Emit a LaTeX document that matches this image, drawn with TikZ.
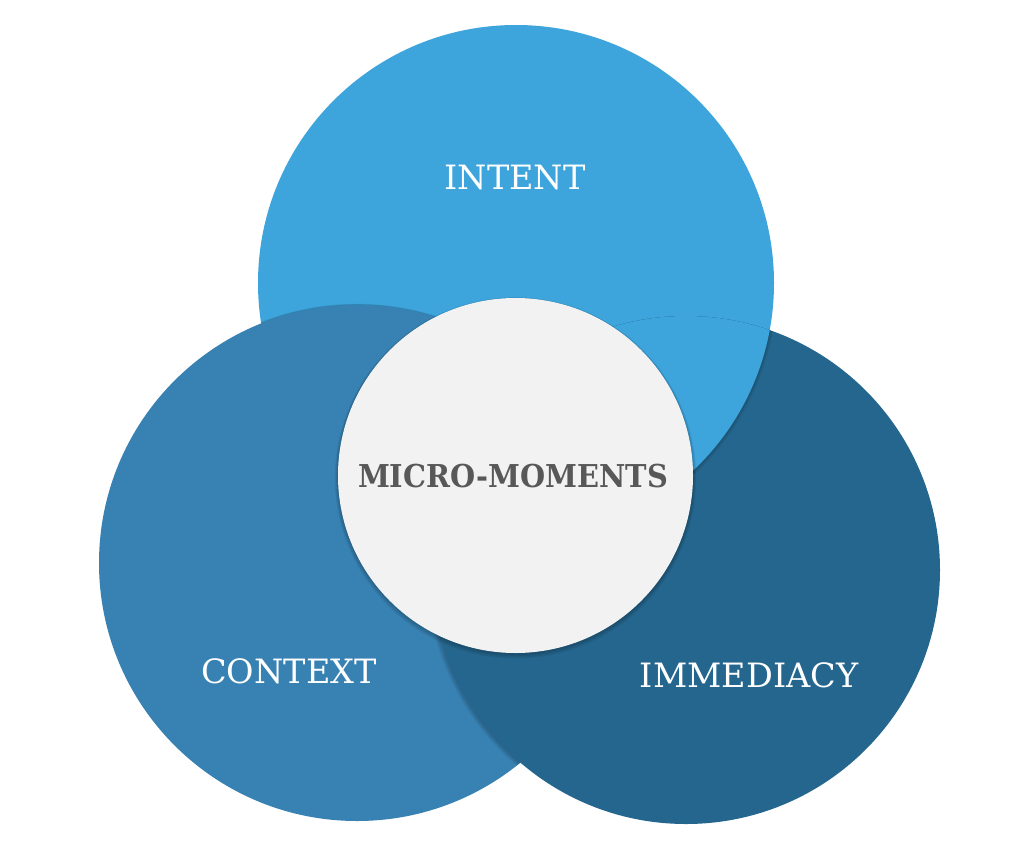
\documentclass[tikz,border=0pt]{standalone}
\usepackage{fontspec}
\setmainfont{DejaVu Serif}
\definecolor{topc}{RGB}{61,164,220}
\definecolor{leftc}{RGB}{56,130,179}
\definecolor{rightc}{RGB}{37,102,142}
\definecolor{centc}{RGB}{242,242,242}
\definecolor{textg}{RGB}{88,88,88}
\tikzset{
  lbl/.style={text=white, font=\fontsize{33.5}{33.5}\selectfont, inner sep=0pt, anchor=center},
  clbl/.style={text=textg, font=\bfseries\fontsize{31.5}{31.5}\selectfont, inner sep=0pt, anchor=center},
  shad/.style={fill=black, opacity=0.06}
}
\begin{document}
\begin{tikzpicture}[x=1pt,y=-1pt]
\useasboundingbox (0,0) rectangle (1026,844);
% top circle
\fill[topc] (516,283) circle (258);
% left circle shadow onto top
\begin{scope}
  \clip (516,283) circle (258);
  \foreach \d in {1,2,3,4}{\fill[shad] (357,563+\d*0.5) circle (258+\d*0.8);}
\end{scope}
\fill[leftc] (357,563) circle (258);
% right circle shadow onto left
\begin{scope}
  \clip (357,563) circle (258);
  \foreach \d in {1,2,3,4}{\fill[shad] (686-\d*0.6,570) circle (254+\d*0.8);}
\end{scope}
\fill[rightc] (686,570) circle (254);
% top over right
\begin{scope}
  \clip (686,570) circle (254);
  \foreach \d in {1,2,3}{\fill[shad] (516+\d*0.3,283+\d*0.5) circle (258+\d*0.7);}
  \fill[topc] (516,283) circle (258);
\end{scope}
% center circle
\foreach \d in {1,2,3,4}{\fill[shad] (515.5,476+\d*0.5) circle (177.5+\d*0.8);}
\fill[centc] (515.5,475.5) circle (177.5);
% labels
\node[lbl] (intent) at (515,178) {INTENT};
\node[lbl] (context) at (289,671) {CONTEXT};
\node[lbl] (immediacy) at (749,675) {IMMEDIACY};
\node[clbl] (micro) at (513,476) {\scalebox{0.915}[1]{MICRO-MOMENTS}};
\end{tikzpicture}
\end{document}
